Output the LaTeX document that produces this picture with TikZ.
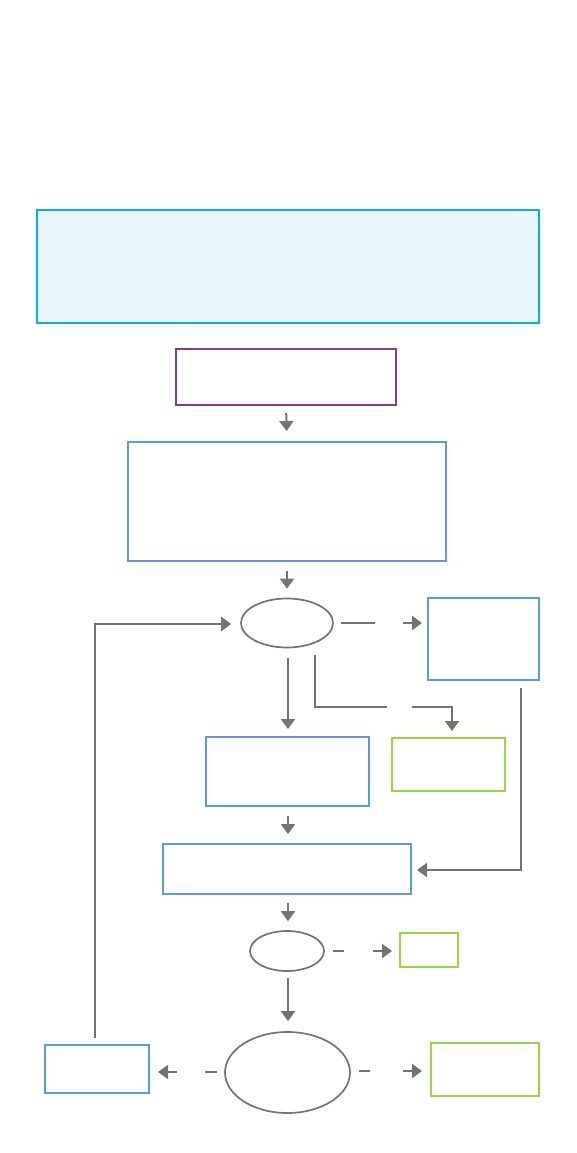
\documentclass[tikz,border=0pt]{standalone}
\usetikzlibrary{arrows.meta,shapes.geometric}
\definecolor{cyanline}{HTML}{00B0F0}
\definecolor{cyanfill}{HTML}{E8F6FC}
\definecolor{purp}{HTML}{7A3E9D}
\definecolor{blu}{HTML}{5B9BD5}
\definecolor{grn}{HTML}{9BD43F}
\definecolor{gry}{HTML}{737373}
\tikzset{
  box/.style={draw, rectangle, line width=2pt, inner sep=0pt},
  bluebox/.style={box, draw=blu},
  greenbox/.style={box, draw=grn},
  oval/.style={draw=gry, ellipse, line width=1.7pt, inner sep=0pt},
  lin/.style={draw=gry, line width=2pt},
  conn/.style={lin, -{Triangle[length=10pt,width=14pt]}},
}
\begin{document}
\begin{tikzpicture}[x=1pt,y=-1pt]
\useasboundingbox (0,0) rectangle (577,1153);
% nodes
\node[box, draw=cyanline, fill=cyanfill, minimum width=502pt, minimum height=113pt] (intro) at (288,266.5) {};
\node[box, draw=purp, minimum width=220pt, minimum height=56pt] (start) at (286,377) {};
\node[bluebox, minimum width=318pt, minimum height=119pt] (big) at (287,501.5) {};
\node[oval, minimum width=92pt, minimum height=49pt] (e1) at (287,623) {};
\node[bluebox, minimum width=111pt, minimum height=82pt] (rbox) at (483.5,639) {};
\node[bluebox, minimum width=163pt, minimum height=69pt] (mid) at (287.5,771.5) {};
\node[greenbox, minimum width=113pt, minimum height=53pt] (g1) at (448.5,764.5) {};
\node[bluebox, minimum width=248pt, minimum height=50pt] (wide) at (287,869) {};
\node[oval, minimum width=74pt, minimum height=40pt] (e2) at (287,951) {};
\node[greenbox, minimum width=58pt, minimum height=34pt] (g2) at (429,950) {};
\node[oval, minimum width=125pt, minimum height=81pt] (e3) at (287.5,1072.5) {};
\node[greenbox, minimum width=108pt, minimum height=53pt] (g3) at (485,1069.5) {};
\node[bluebox, minimum width=104pt, minimum height=48pt] (lb) at (97,1069) {};
% gap / bend coordinates
\coordinate (a1) at (375,623);
\coordinate (a2) at (403,623);
\coordinate (b0) at (315,655);
\coordinate (b1) at (315,707);
\coordinate (b2) at (387,707);
\coordinate (b3) at (412,707);
\coordinate (b4) at (452,707);
\coordinate (c0) at (521,688);
\coordinate (c1) at (521,870);
\coordinate (d1) at (344,951);
\coordinate (d2) at (373,951);
\coordinate (f1) at (370,1071);
\coordinate (f2) at (403,1071);
\coordinate (h1) at (205,1072);
\coordinate (h2) at (177,1072);
\coordinate (k0) at (95,1038);
\coordinate (k1) at (95,624);
% connectors
\draw[conn, shorten <=7pt, shorten >=10pt] (start.south) -- (big.north);
\draw[conn, shorten <=9pt, shorten >=9pt] (big.south) -- (e1.north);
\draw[lin, shorten <=7pt] (e1.east) -- (a1);
\draw[conn, shorten >=5pt] (a2) -- (rbox.west |- a2);
\draw[conn, shorten <=10pt, shorten >=7pt] ([xshift=1pt]e1.south) -- ([xshift=0.5pt]mid.north);
\draw[lin] (b0) -- (b1) -- (b2);
\draw[conn, shorten >=6pt] (b3) -- (b4) -- (b4 |- g1.north);
\draw[conn, shorten >=5pt] (c0) -- (c1) -- (wide.east |- c1);
\draw[conn, shorten <=9pt, shorten >=9pt] ([xshift=0.5pt]mid.south) -- ([xshift=1pt]wide.north);
\draw[conn, shorten <=8pt, shorten >=9pt] ([xshift=1pt]wide.south) -- ([xshift=1pt]e2.north);
\draw[lin, shorten <=8pt] (e2.east) -- (d1);
\draw[conn, shorten >=7pt] (d2) -- (g2.west |- d2);
\draw[conn, shorten <=6pt, shorten >=10pt] ([xshift=1pt]e2.south) -- ([xshift=0.5pt]e3.north);
\draw[lin, shorten <=8pt] (e3.east |- f1) -- (f1);
\draw[conn, shorten >=8pt] (f2) -- (g3.west |- f2);
\draw[lin, shorten <=7pt] (e3.west |- h1) -- (h1);
\draw[conn, shorten >=8pt] (h2) -- (lb.east |- h2);
\draw[conn, shorten >=9pt] (k0) -- (k1) -- (e1.west |- k1);
\end{tikzpicture}
\end{document}
